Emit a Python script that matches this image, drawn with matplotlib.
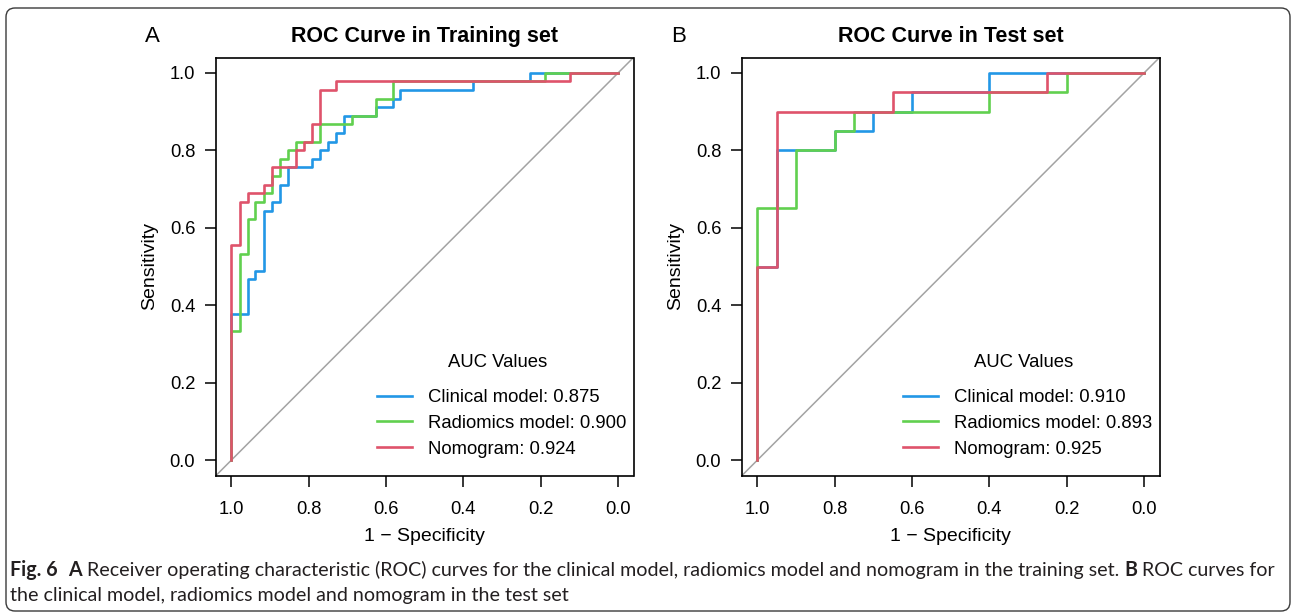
import matplotlib
matplotlib.use('Agg')
import matplotlib.pyplot as plt
from matplotlib.lines import Line2D
from matplotlib.patches import FancyBboxPatch
from matplotlib.transforms import IdentityTransform

# ROC steps: one point per vertical jump
# (specificity, sensitivity), drawn with steps-post
train_clin_spec = [1.0, 1.0, 0.958, 0.938, 0.917, 0.896, 0.875, 0.854, 0.792, 0.771,
                   0.750, 0.729, 0.708, 0.625, 0.583, 0.563, 0.375, 0.229, 0.0]
train_clin_sens = [0.0, 0.378, 0.467, 0.489, 0.644, 0.667, 0.711, 0.756, 0.778, 0.800,
                   0.822, 0.844, 0.889, 0.911, 0.933, 0.956, 0.978, 1.0, 1.0]
train_rad_spec = [1.0, 1.0, 0.979, 0.958, 0.938, 0.917, 0.896, 0.875, 0.854, 0.833,
                  0.771, 0.688, 0.625, 0.583, 0.188, 0.0]
train_rad_sens = [0.0, 0.333, 0.533, 0.622, 0.667, 0.689, 0.733, 0.778, 0.800, 0.822,
                  0.867, 0.889, 0.933, 0.978, 1.0, 1.0]
train_nomo_spec = [1.0, 1.0, 0.979, 0.958, 0.917, 0.896, 0.833, 0.812, 0.792, 0.771,
                   0.729, 0.125, 0.0]
train_nomo_sens = [0.0, 0.556, 0.667, 0.689, 0.711, 0.756, 0.800, 0.822, 0.867, 0.956,
                   0.978, 1.0, 1.0]

test_clin_spec = [1.0, 1.0, 0.95, 0.80, 0.70, 0.60, 0.40, 0.0]
test_clin_sens = [0.0, 0.50, 0.80, 0.85, 0.90, 0.95, 1.0, 1.0]
test_rad_spec = [1.0, 1.0, 0.90, 0.80, 0.75, 0.40, 0.20, 0.0]
test_rad_sens = [0.0, 0.65, 0.80, 0.85, 0.90, 0.95, 1.0, 1.0]
test_nomo_spec = [1.0, 1.0, 0.95, 0.65, 0.25, 0.0]
test_nomo_sens = [0.0, 0.50, 0.90, 0.95, 1.0, 1.0]

model_names = ['Clinical model', 'Radiomics model', 'Nomogram']
auc_train = [0.875, 0.900, 0.924]
auc_test = [0.910, 0.893, 0.925]
colors = ['#2297E6', '#61D04F', '#DF536B']
tick_vals = [1.0, 0.8, 0.6, 0.4, 0.2, 0.0]
panel_titles = ['ROC Curve in Training set', 'ROC Curve in Test set']
panel_letters = ['A', 'B']

W, H = 1292, 616
plt.rcParams['font.family'] = ['Liberation Sans', 'DejaVu Sans']
fig = plt.figure(figsize=(W / 100, H / 100), dpi=100)


def draw_panel(ax, curves, aucs, title, letter, left_px):
    ax.axline((1, 0), (0, 1), color='#A3A3A3', lw=1.1, zorder=1)
    for (spec, sens), col in zip(curves, colors):
        ax.plot(spec, sens, drawstyle='steps-post', color=col, lw=1.9, zorder=2)
    ax.set_xlim(1.04, -0.04)
    ax.set_ylim(-0.04, 1.04)
    ax.set_xticks(tick_vals)
    ax.set_xticklabels(['%.1f' % v for v in tick_vals])
    ax.set_yticks(tick_vals)
    ax.set_yticklabels(['%.1f' % v for v in tick_vals])
    ax.tick_params(direction='out', length=8, width=1.1, labelsize=13.2)
    ax.tick_params(axis='x', pad=10)
    ax.tick_params(axis='y', pad=7)
    for s in ax.spines.values():
        s.set_linewidth(1.2)
    ax.set_xlabel('1 \u2212 Specificity', fontsize=14)
    ax.set_ylabel('Sensitivity', fontsize=14)
    ax.xaxis.set_label_coords(0.5, -0.125)
    ax.yaxis.set_label_coords(-0.138, 0.5)
    ax.set_title(title, fontsize=15.5, fontweight='bold', pad=11)
    fig.text(left_px - 71, H - 42, letter, fontsize=16, ha='left', va='baseline',
             transform=IdentityTransform())

    handles = [Line2D([], [], color=c, lw=1.9) for c in colors]
    labels = ['%s: %.3f' % (n, a) for n, a in zip(model_names, aucs)]
    ax.legend(handles, labels, loc='upper left', bbox_to_anchor=(0.3856, 0.207),
              frameon=False, fontsize=13.3, handlelength=1.9, handletextpad=0.84,
              labelspacing=0.48, borderpad=0, borderaxespad=0)
    ax.text(0.675, 0.2715, 'AUC Values', transform=ax.transAxes, ha='center',
            va='center', fontsize=13.3)


ax_a = fig.add_axes([216 / W, (H - 475.5) / H, 417.5 / W, 418 / H])
ax_b = fig.add_axes([742 / W, (H - 475.5) / H, 417.5 / W, 418 / H])
draw_panel(ax_a, [(train_clin_spec, train_clin_sens), (train_rad_spec, train_rad_sens),
                  (train_nomo_spec, train_nomo_sens)], auc_train, panel_titles[0],
           panel_letters[0], 216)
draw_panel(ax_b, [(test_clin_spec, test_clin_sens), (test_rad_spec, test_rad_sens),
                  (test_nomo_spec, test_nomo_sens)], auc_test, panel_titles[1],
           panel_letters[1], 742)

# rounded frame round the whole figure
frame = FancyBboxPatch((6, 5), 1284, 603, boxstyle='round,pad=0,rounding_size=9',
                       transform=IdentityTransform(), fill=False, ec='#3a3a3a', lw=1.0)
fig.add_artist(frame)

# caption, runs of bold / regular text fitted to the reference width
cap_font = ['Lato', 'DejaVu Sans']
cap_color = '#231f20'
line1 = [('Fig. 6', True, 0.55),
         ('A', True, 0.25),
         ('Receiver operating characteristic (ROC) curves for the clinical model, '
          'radiomics model and nomogram in the training set.', False, 0.25),
         ('B', True, 0.25),
         ('ROC curves for', False, 0.0)]
line2 = [('the clinical model, radiomics model and nomogram in the test set', False, 0.0)]

renderer = fig.canvas.get_renderer()


def draw_runs(runs, x, y, size):
    arts = []
    for txt, bold, gap in runs:
        t = fig.text(x, y, txt, fontsize=size, family=cap_font, color=cap_color,
                     fontweight='bold' if bold else 'normal', ha='left', va='baseline',
                     transform=IdentityTransform())
        arts.append(t)
        x = t.get_window_extent(renderer).x1 + gap * size * 100 / 72
    return arts, x


size = 13
arts, end = draw_runs(line1, 10, H - 576, size)
for a in arts:
    a.remove()
size = size * (1272 - 10) / (end - 10)
draw_runs(line1, 10, H - 576, size)
draw_runs(line2, 10, H - 601, size)

fig.savefig('out.png', dpi=100)
